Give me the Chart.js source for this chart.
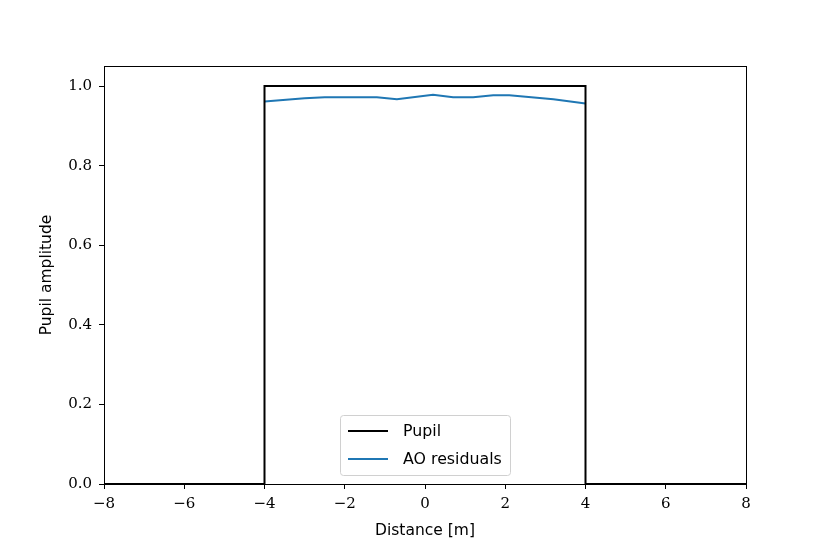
<!DOCTYPE html>
<html>
<head>
<meta charset="utf-8">
<script src="https://cdn.jsdelivr.net/npm/chart.js@4/dist/chart.umd.min.js"></script>
<style>
  html, body { margin: 0; padding: 0; background: #fff; }
  #wrap { width: 830px; height: 554px; }
</style>
</head>
<body>
<div id="wrap"><canvas id="lineChart"></canvas></div>
<script>
// pupil profile (step) and AO residual amplitude
const pupilX = [-8, -4, -4, 4, 4, 8];
const pupilY = [0, 0, 1, 1, 0, 0];
const aoX = [-4.0, -3.0, -2.5, -2.0, -1.5, -1.2, -0.7, 0.2, 0.7, 1.2, 1.7, 2.1, 3.2, 4.0];
const aoY = [0.961, 0.969, 0.972, 0.972, 0.972, 0.972, 0.967, 0.978, 0.972, 0.972, 0.977, 0.977, 0.967, 0.956];
const xTicks = [-8, -6, -4, -2, 0, 2, 4, 6, 8];
const yTicks = [0, 0.2, 0.4, 0.6, 0.8, 1.0];
const seriesNames = ['Pupil', 'AO residuals'];
const xTitle = 'Distance [m]';
const yTitle = 'Pupil amplitude';

window.onload = main;

function main(){
    const pupil = pupilX.map((x, i) => ({x: x, y: pupilY[i]}));
    const ao = aoX.map((x, i) => ({x: x, y: aoY[i]}));
    lineChart(pupil, ao);
}

// frame, axis titles and legend box like matplotlib
const framePlugin = {
    id: 'frame',
    afterDraw(chart){
        const {ctx, chartArea: a} = chart;
        ctx.save();
        ctx.strokeStyle = '#000';
        ctx.lineWidth = 1;
        ctx.strokeRect(a.left + 0.5, a.top + 0.5, a.right - a.left, a.bottom - a.top);

        // axis titles
        ctx.fillStyle = '#000';
        ctx.font = '15.5px "DejaVu Sans"';
        ctx.textAlign = 'center';
        ctx.textBaseline = 'middle';
        ctx.fillText(xTitle, (a.left + a.right) / 2, 531);
        ctx.translate(47, (a.top + a.bottom) / 2);
        ctx.rotate(-Math.PI / 2);
        ctx.fillText(yTitle, 0, 0);
        ctx.setTransform(1, 0, 0, 1, 0, 0);

        // legend
        const bx = 340, by = 415, bw = 170, bh = 60;
        ctx.fillStyle = 'rgba(255,255,255,0.8)';
        ctx.strokeStyle = '#d0d0d0';
        ctx.beginPath();
        ctx.roundRect(bx + 0.5, by + 0.5, bw, bh, 3);
        ctx.fill();
        ctx.stroke();
        const colors = ['#000000', '#1f77b4'];
        ctx.font = '15.8px "DejaVu Sans"';
        ctx.textAlign = 'left';
        ctx.textBaseline = 'middle';
        seriesNames.forEach((name, i) => {
            const yy = by + 16 + i * 28;
            ctx.strokeStyle = colors[i];
            ctx.lineWidth = 2;
            ctx.beginPath();
            ctx.moveTo(bx + 8, yy);
            ctx.lineTo(bx + 48, yy);
            ctx.stroke();
            ctx.fillStyle = '#000';
            ctx.fillText(name, bx + 63, yy + 1);
        });
        ctx.restore();
    }
};

function lineChart(pupil, ao){
    const canvas = document.getElementById('lineChart').getContext('2d');

    const data = {
        datasets: [
            {
                label: seriesNames[0],
                data: pupil,
                borderColor: '#000000',
                borderWidth: 2,
                pointRadius: 0,
                tension: 0
            },
            {
                label: seriesNames[1],
                data: ao,
                borderColor: '#1f77b4',
                borderWidth: 2,
                pointRadius: 0,
                tension: 0
            }
        ]
    };

    const serif = {family: '"DejaVu Serif", serif', size: 15};

    const options = {
        responsive: true,
        maintainAspectRatio: false,
        animation: false,
        layout: { padding: {left: 0, right: 84, top: 66, bottom: 0} },
        plugins: { legend: {display: false}, tooltip: {enabled: false} },
        scales: {
            x: {
                type: 'linear',
                min: -8,
                max: 8,
                afterBuildTicks: s => { s.ticks = xTicks.map(v => ({value: v})); },
                afterFit: s => { s.height = 70; },
                ticks: {
                    color: '#000',
                    font: serif,
                    padding: 6,
                    maxRotation: 0,
                    callback: v => String(v).replace('-', '\u2212')
                },
                grid: {display: true, drawOnChartArea: false, drawTicks: true, tickLength: 5, color: '#000'},
                border: {display: true, color: '#000'}
            },
            y: {
                type: 'linear',
                min: 0,
                max: 1.0503,
                afterBuildTicks: s => { s.ticks = yTicks.map(v => ({value: v})); },
                afterFit: s => { s.width = 104; },
                ticks: {
                    color: '#000',
                    font: serif,
                    padding: 7,
                    callback: v => v.toFixed(1)
                },
                grid: {display: true, drawOnChartArea: false, drawTicks: true, tickLength: 5, color: '#000'},
                border: {display: true, color: '#000'}
            }
        }
    };

    new Chart(canvas, {
        type: 'line',
        data: data,
        options: options,
        plugins: [framePlugin]
    });
}
</script>
</body>
</html>
